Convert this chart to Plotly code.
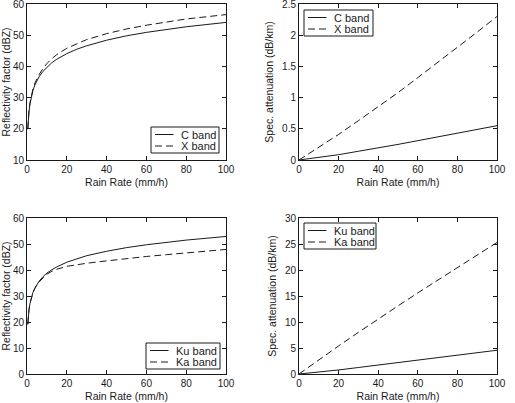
import plotly.graph_objects as go

# ---------------- data ----------------
rain_rate = [0.4, 0.5, 0.75, 1, 1.5, 2, 3, 4, 5, 6, 8, 10,
             12.5, 15, 20, 25, 30, 40, 50, 60, 70, 80, 90, 100]

z_c = [19.8, 21.2, 23.7, 25.5, 28.0, 29.8, 32.3, 34.1, 35.5, 36.6,
       38.4, 39.8, 41.2, 42.3, 44.1, 45.5, 46.6, 48.4, 49.8, 50.9, 51.9, 52.7, 53.4, 54.1]
z_x = [20.1, 21.5, 24.0, 25.8, 28.4, 30.2, 32.8, 34.7, 36.1, 37.3,
       39.3, 40.9, 42.5, 43.8, 45.8, 47.3, 48.6, 50.5, 52.0, 53.2, 54.3, 55.2, 55.9, 56.6]
z_ku = [19.0, 20.4, 22.9, 24.7, 27.1, 28.9, 31.4, 33.1, 34.5, 35.6,
        37.4, 38.8, 40.1, 41.2, 43.0, 44.4, 45.5, 47.2, 48.6, 49.7, 50.7, 51.5, 52.2, 52.9]
z_ka = [19.2, 20.6, 23.0, 24.8, 27.2, 28.9, 31.3, 33.0, 34.3, 35.3,
        36.9, 38.4, 39.5, 40.3, 41.4, 42.0, 42.6, 43.5, 44.4, 45.2, 45.9, 46.6, 47.2, 47.9]

att_rate = [0, 10, 20, 30, 40, 50, 60, 70, 80, 90, 100]
k_c = [0, 0.04, 0.085, 0.14, 0.19, 0.25, 0.31, 0.37, 0.43, 0.49, 0.55]
k_x = [0, 0.20, 0.41, 0.63, 0.85, 1.08, 1.32, 1.56, 1.80, 2.05, 2.30]
k_ku = [0, 0.35, 0.78, 1.25, 1.72, 2.20, 2.68, 3.15, 3.62, 4.10, 4.57]
k_ka = [0, 2.75, 5.4, 8.0, 10.6, 13.1, 15.6, 18.0, 20.4, 22.9, 25.3]

x_ticks = [0, 20, 40, 60, 80, 100]
x_title = "Rain Rate (mm/h)"
z_title = "Reflectivity factor (dBZ)"
k_title = "Spec. attenuation (dB/km)"

# ---------------- figure ----------------
W, H = 515, 403
FONT = "Liberation Sans, Arial, Helvetica, sans-serif"
INK = "#1a1a1a"
DASH = "7px,4px"

fig = go.Figure()

panels = [
    ("x", "y", rain_rate, [(z_c, "C band", "solid"), (z_x, "X band", "dash")]),
    ("x2", "y2", att_rate, [(k_c, "C band", "solid"), (k_x, "X band", "dash")]),
    ("x3", "y3", rain_rate, [(z_ku, "Ku band", "solid"), (z_ka, "Ka band", "dash")]),
    ("x4", "y4", att_rate, [(k_ku, "Ku band", "solid"), (k_ka, "Ka band", "dash")]),
]

for xa, ya, xs, series in panels:
    for ys, name, dash in series:
        fig.add_trace(go.Scatter(
            x=xs, y=ys, name=name, mode="lines", xaxis=xa, yaxis=ya, showlegend=False,
            line=dict(color=INK, width=1, dash=(DASH if dash == "dash" else "solid")),
        ))

xdom_l = [27 / W, 226 / W]
xdom_r = [299 / W, 497 / W]
ydom_t = [1 - 160 / H, 1 - 4 / H]
ydom_b = [1 - 374 / H, 1 - 218 / H]

axis_common = dict(
    showline=True, linecolor=INK, linewidth=1, mirror="ticks",
    ticks="inside", ticklen=4, tickcolor=INK, tickwidth=1,
    showgrid=False, zeroline=False, ticklabeloverflow="allow",
    tickfont=dict(family=FONT, size=10, color=INK),
)
TITLE_FONT = dict(family=FONT, size=10.5, color=INK)

def xaxis(dom, anchor):
    return dict(domain=dom, anchor=anchor, range=[0, 100], tickvals=x_ticks,
                title=dict(text=x_title, font=TITLE_FONT, standoff=4), **axis_common)

def yaxis(dom, anchor, yr, dt, title):
    return dict(domain=dom, anchor=anchor, range=yr, dtick=dt, tick0=0,
                title=dict(text=title, font=TITLE_FONT, standoff=6), **axis_common)

fig.update_layout(
    width=W, height=H,
    margin=dict(l=0, r=0, t=0, b=0, autoexpand=False),
    paper_bgcolor="white", plot_bgcolor="white",
    font=dict(family=FONT, size=10, color=INK),
    showlegend=False,
    xaxis=xaxis(xdom_l, "y"),
    yaxis=yaxis(ydom_t, "x", [10, 60], 10, z_title),
    xaxis2=xaxis(xdom_r, "y2"),
    yaxis2=yaxis(ydom_t, "x2", [0, 2.5], 0.5, k_title),
    xaxis3=xaxis(xdom_l, "y3"),
    yaxis3=yaxis(ydom_b, "x3", [0, 60], 10, z_title),
    xaxis4=xaxis(xdom_r, "y4"),
    yaxis4=yaxis(ydom_b, "x4", [0, 30], 5, k_title),
)

# ---------------- legends (MATLAB-style compact boxes) ----------------
def px(x):
    return x / W

def py(y):
    return 1 - y / H

def add_legend(left, top, width, names):
    fig.add_shape(type="rect", xref="paper", yref="paper",
                  x0=px(left), x1=px(left + width), y0=py(top + 26), y1=py(top),
                  line=dict(color=INK, width=1), fillcolor="white", layer="above")
    for i, (name, dash) in enumerate(names):
        yc = top + 7.5 + i * 11.5
        fig.add_shape(type="line", xref="paper", yref="paper",
                      x0=px(left + 4), x1=px(left + 22.5), y0=py(yc), y1=py(yc),
                      line=dict(color=INK, width=1, dash=(DASH if dash == "dash" else "solid")),
                      layer="above")
        fig.add_annotation(xref="paper", yref="paper", x=px(left + 27.5), y=py(yc),
                           xanchor="left", yanchor="middle", text=name, showarrow=False,
                           font=dict(family=FONT, size=11, color=INK))

add_legend(151, 127, 68, [("C band", "solid"), ("X band", "dash")])
add_legend(304, 10, 69, [("C band", "solid"), ("X band", "dash")])
add_legend(146, 343, 74, [("Ku band", "solid"), ("Ka band", "dash")])
add_legend(304, 223, 72, [("Ku band", "solid"), ("Ka band", "dash")])

fig.write_html("out.html")
